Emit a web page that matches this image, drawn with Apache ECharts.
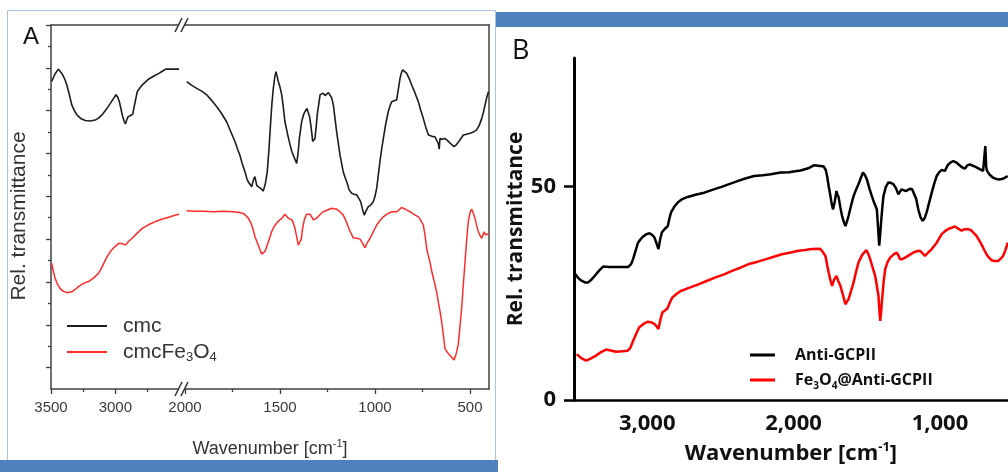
<!DOCTYPE html>
<html>
<head>
<meta charset="utf-8">
<script src="https://cdn.jsdelivr.net/npm/echarts@6/dist/echarts.min.js"></script>
<style>
html,body{margin:0;padding:0;background:#fff;}
#chart{width:1008px;height:472px;}
</style>
</head>
<body>
<div id="chart"></div>
<script>
// ---------- Panel A data: [wavenumber cm-1, relative transmittance (arb.)] ----------
const cmcLeft = [[3495,7.18],[3470,7.35],[3443,7.47],[3430,7.44],[3416,7.37],[3395,7.25],[3377,7.10],[3358,6.88],[3338,6.63],[3318,6.50],[3299,6.40],[3265,6.31],[3234,6.27],[3195,6.26],[3156,6.28],[3130,6.33],[3104,6.40],[3070,6.53],[3039,6.67],[3015,6.78],[2995,6.87],[2982,6.82],[2969,6.71],[2955,6.52],[2943,6.36],[2930,6.24],[2922,6.19],[2912,6.28],[2901,6.36],[2885,6.38],[2865,6.42],[2850,6.65],[2830,6.94],[2810,7.03],[2791,7.10],[2765,7.17],[2740,7.24],[2700,7.31],[2662,7.37],[2635,7.42],[2609,7.47],[2560,7.47],[2505,7.47]];
const cmcRight = [[1991,7.18],[1960,7.08],[1938,7.02],[1910,6.95],[1886,6.87],[1860,6.74],[1833,6.59],[1810,6.45],[1781,6.24],[1760,6.02],[1737,5.78],[1725,5.62],[1711,5.46],[1700,5.28],[1684,5.07],[1675,4.92],[1667,4.84],[1658,4.78],[1649,4.72],[1640,4.88],[1632,4.96],[1622,4.75],[1614,4.72],[1600,4.68],[1588,4.62],[1577,4.80],[1567,5.07],[1558,5.60],[1549,6.24],[1542,6.70],[1535,7.02],[1527,7.30],[1521,7.41],[1515,7.30],[1509,7.18],[1500,7.05],[1491,6.87],[1483,6.60],[1474,6.24],[1460,5.95],[1447,5.70],[1438,5.55],[1430,5.46],[1420,5.35],[1412,5.27],[1405,5.50],[1398,5.85],[1386,6.24],[1375,6.42],[1368,6.48],[1358,6.55],[1351,6.52],[1344,6.35],[1338,6.17],[1332,5.95],[1328,5.78],[1322,5.80],[1316,5.85],[1310,6.10],[1304,6.40],[1296,6.65],[1289,6.87],[1280,6.90],[1272,6.91],[1263,6.85],[1254,6.87],[1245,6.92],[1237,6.91],[1228,6.80],[1219,6.63],[1210,6.30],[1202,6.01],[1192,5.70],[1184,5.46],[1175,5.25],[1167,5.07],[1158,4.95],[1149,4.84],[1136,4.65],[1123,4.57],[1110,4.55],[1096,4.53],[1085,4.45],[1075,4.37],[1066,4.20],[1056,4.06],[1045,4.18],[1035,4.26],[1022,4.30],[1009,4.37],[1000,4.50],[991,4.69],[983,4.98],[974,5.31],[965,5.60],[956,5.85],[943,6.20],[930,6.48],[920,6.62],[912,6.71],[900,6.73],[886,6.75],[877,7.00],[868,7.26],[860,7.40],[854,7.45],[845,7.42],[833,7.37],[820,7.25],[807,7.10],[790,6.92],[772,6.71],[760,6.52],[746,6.32],[733,6.12],[719,5.93],[700,5.90],[684,5.89],[675,5.80],[667,5.74],[662,5.60],[658,5.85],[645,5.83],[632,5.85],[618,5.80],[605,5.74],[595,5.70],[584,5.66],[573,5.70],[562,5.76],[548,5.85],[535,5.93],[518,5.95],[500,5.97],[482,6.00],[465,6.05],[452,6.15],[438,6.32],[430,6.45],[421,6.63],[412,6.80],[403,6.94]];
const feLeft = [[3495,2.94],[3482,2.75],[3469,2.59],[3450,2.45],[3430,2.35],[3405,2.28],[3377,2.25],[3338,2.27],[3310,2.33],[3287,2.39],[3250,2.46],[3209,2.51],[3170,2.59],[3131,2.70],[3105,2.84],[3078,3.01],[3060,3.11],[3039,3.21],[3005,3.32],[2974,3.40],[2950,3.40],[2922,3.36],[2900,3.44],[2870,3.52],[2830,3.64],[2791,3.75],[2740,3.84],[2688,3.91],[2635,3.97],[2584,4.01],[2545,4.05],[2505,4.08]];
const feRight = [[1991,4.16],[1950,4.15],[1900,4.15],[1851,4.14],[1800,4.15],[1746,4.14],[1715,4.12],[1693,4.10],[1680,4.05],[1667,3.99],[1658,3.92],[1649,3.83],[1640,3.70],[1632,3.56],[1618,3.40],[1605,3.25],[1596,3.15],[1588,3.11],[1578,3.22],[1567,3.36],[1555,3.52],[1544,3.67],[1530,3.80],[1518,3.87],[1508,3.92],[1500,3.95],[1488,4.00],[1474,4.08],[1465,4.04],[1456,3.99],[1446,3.97],[1438,3.95],[1430,3.88],[1421,3.75],[1412,3.55],[1404,3.36],[1395,3.32],[1388,3.50],[1381,3.75],[1372,3.95],[1360,4.08],[1350,4.09],[1342,4.08],[1333,4.02],[1325,3.95],[1316,3.96],[1307,3.99],[1290,4.07],[1272,4.14],[1250,4.18],[1228,4.22],[1215,4.21],[1202,4.20],[1185,4.14],[1167,4.06],[1155,3.95],[1141,3.79],[1128,3.65],[1114,3.53],[1095,3.52],[1079,3.50],[1065,3.40],[1053,3.30],[1040,3.42],[1026,3.52],[1008,3.68],[991,3.83],[975,3.93],[956,4.02],[935,4.09],[912,4.14],[886,4.14],[872,4.19],[860,4.24],[845,4.21],[830,4.17],[816,4.14],[795,4.08],[772,4.02],[760,3.95],[746,3.83],[737,3.60],[728,3.29],[720,3.12],[711,2.97],[700,2.72],[684,2.43],[675,2.25],[667,2.04],[658,1.82],[649,1.57],[640,1.25],[632,0.95],[623,0.88],[614,0.83],[600,0.76],[584,0.68],[573,0.82],[562,1.03],[553,1.45],[544,1.88],[535,2.45],[526,2.97],[518,3.45],[509,3.91],[500,4.12],[491,4.20],[482,4.10],[474,3.99],[465,3.82],[456,3.67],[447,3.58],[438,3.52],[432,3.60],[426,3.67],[419,3.60],[412,3.56],[406,3.62],[400,3.60]];

// ---------- Panel B data ----------
const antiB = [[3490,29.4],[3470,28.5],[3449,27.9],[3425,27.5],[3403,27.5],[3380,28.2],[3359,29.0],[3330,30.2],[3301,31.2],[3260,31.1],[3222,31.1],[3180,31.1],[3131,31.1],[3110,31.8],[3097,32.9],[3080,34.8],[3063,36.8],[3045,37.6],[3029,38.2],[3005,38.8],[2984,39.0],[2965,38.6],[2950,38.0],[2935,36.5],[2923,35.3],[2912,37.5],[2900,39.2],[2880,40.0],[2859,40.7],[2848,42.5],[2837,43.9],[2815,45.2],[2791,46.2],[2760,47.0],[2723,47.5],[2670,48.0],[2610,48.5],[2550,49.2],[2497,49.8],[2440,50.5],[2383,51.2],[2330,51.8],[2270,52.4],[2210,52.6],[2156,52.8],[2088,53.2],[2032,53.3],[1990,53.5],[1952,53.7],[1900,54.2],[1862,54.9],[1830,54.8],[1794,54.6],[1780,53.8],[1771,52.4],[1760,50.0],[1748,47.7],[1740,46.0],[1730,44.6],[1718,46.5],[1707,48.9],[1700,48.0],[1692,47.4],[1680,45.0],[1669,43.1],[1658,41.8],[1646,40.7],[1635,41.8],[1624,43.1],[1607,45.5],[1590,47.7],[1573,49.2],[1556,50.5],[1540,52.0],[1526,53.2],[1512,52.6],[1499,51.6],[1482,49.5],[1465,47.7],[1448,46.0],[1431,44.6],[1422,40.0],[1415,36.1],[1410,38.0],[1404,40.7],[1395,44.5],[1386,47.7],[1370,49.8],[1352,50.9],[1335,50.8],[1318,50.5],[1300,49.5],[1284,48.1],[1272,48.8],[1261,49.3],[1245,49.0],[1231,48.9],[1218,49.2],[1204,49.4],[1190,49.3],[1177,48.9],[1162,47.0],[1148,44.6],[1133,42.8],[1118,41.9],[1105,42.5],[1091,43.9],[1075,46.0],[1056,48.5],[1040,50.5],[1022,52.4],[1005,53.3],[988,53.8],[975,53.8],[966,53.6],[955,54.4],[943,55.1],[925,55.6],[909,55.9],[890,55.6],[876,55.2],[864,54.9],[848,54.4],[830,54.1],[815,54.8],[796,55.1],[775,54.8],[750,54.4],[728,54.0],[705,53.6],[695,54.0],[690,59.4],[684,54.5],[678,53.6],[660,52.7],[637,52.0],[615,51.7],[592,51.6],[565,51.8],[537,52.4]];
const feAntiB = [[3481,10.7],[3450,9.8],[3417,9.2],[3390,9.6],[3349,10.4],[3315,11.2],[3281,11.8],[3250,11.6],[3213,11.3],[3170,11.4],[3134,11.5],[3115,12.2],[3100,13.5],[3075,15.5],[3054,17.0],[3025,17.8],[2998,18.3],[2975,18.2],[2952,17.8],[2935,17.2],[2923,16.6],[2910,18.8],[2896,20.5],[2880,20.9],[2862,21.4],[2845,22.8],[2828,24.0],[2800,24.8],[2771,25.5],[2710,26.3],[2646,27.1],[2590,27.9],[2533,28.7],[2475,29.4],[2420,30.2],[2360,31.0],[2306,31.8],[2250,32.3],[2193,32.9],[2135,33.5],[2080,34.1],[2020,34.5],[1966,34.9],[1920,35.1],[1876,35.3],[1819,35.4],[1800,34.6],[1782,33.7],[1770,31.5],[1760,29.8],[1748,28.0],[1737,26.7],[1722,28.2],[1707,29.0],[1694,27.8],[1680,26.7],[1662,24.5],[1646,22.4],[1635,23.0],[1624,23.6],[1607,25.5],[1590,27.5],[1573,30.0],[1556,32.2],[1530,34.0],[1503,35.1],[1490,34.2],[1476,32.9],[1460,31.0],[1442,29.0],[1430,26.5],[1420,24.4],[1414,21.0],[1408,18.5],[1402,20.5],[1397,22.8],[1385,27.5],[1374,30.6],[1357,32.3],[1340,33.3],[1318,34.0],[1295,34.5],[1283,33.8],[1272,32.9],[1255,33.0],[1238,33.3],[1210,33.9],[1181,34.5],[1158,34.8],[1136,34.9],[1118,34.3],[1102,33.7],[1080,34.5],[1056,35.3],[1040,36.0],[1022,36.8],[1005,37.8],[988,38.8],[965,39.5],[943,40.0],[920,40.3],[898,40.6],[875,40.1],[852,39.6],[835,39.9],[818,40.0],[800,39.9],[784,39.6],[767,39.0],[750,38.4],[733,37.4],[716,36.4],[699,35.2],[682,34.1],[665,33.3],[648,32.7],[625,32.5],[603,32.5],[586,33.0],[569,33.7],[553,35.0],[537,36.8]];

// ---------- Tick values ----------
const ticksALeft = [3500, 3000];
const minorALeft = [3250, 2750];
const ticksARight = [2000, 1500, 1000, 500];
const minorARight = [1750, 1250, 750];
const ticksAY = [0.5, 1.5, 2.5, 3.5, 4.5, 5.5, 6.5, 7.5, 8.5];
const minorAY = [1, 2, 3, 4, 5, 6, 7, 8];
const ticksBX = [3000, 2000, 1000];
const ticksBY = [0, 50];

const FA = '"Liberation Sans", Arial, sans-serif';
const FB = '"Open Sans", "Liberation Sans", sans-serif';
const axA = '#404040';
const blackA = '#1c1c1c';
const redA = '#ff2b2b';

const chart = echarts.init(document.getElementById('chart'), null, {renderer: 'canvas'});

function lineAxis(show) {
  return {show: show, onZero: false, lineStyle: {color: axA, width: 1.5}};
}
const plainNum = v => String(v);

const option = {
  animation: false,
  backgroundColor: '#ffffff',
  title: [
    {text: 'A', left: 23, top: 25, padding: 0, textStyle: {fontFamily: FA, fontSize: 24, fontWeight: 'normal', color: '#111'}},
    {text: 'B', left: 512, top: 38, padding: 0, textStyle: {fontFamily: FB, fontSize: 27, fontWeight: 'normal', color: '#111'}}
  ],
  grid: [
    {left: 51, top: 25, width: 130, height: 364},
    {left: 181, top: 25, width: 308, height: 364},
    {left: 574, top: 58, right: 0, height: 343},
    {left: 51, top: 25, width: 438, height: 364}
  ],
  xAxis: [
    {gridIndex: 0, type: 'value', position: 'bottom', inverse: true, min: 2490, max: 3500,
     axisLine: lineAxis(true),
     axisTick: {show: true, customValues: ticksALeft, length: 5, lineStyle: {color: axA, width: 1.3}},
     axisLabel: {customValues: ticksALeft, formatter: plainNum, margin: 11, fontSize: 15, fontFamily: FA, color: '#3a3a3a'},
     splitLine: {show: false}},
    {gridIndex: 0, type: 'value', position: 'bottom', inverse: true, min: 2490, max: 3500,
     axisLine: {show: false},
     axisTick: {show: true, customValues: minorALeft, length: 3, lineStyle: {color: axA, width: 1.3}},
     axisLabel: {show: false}, splitLine: {show: false}},
    {gridIndex: 0, type: 'value', position: 'top', inverse: true, min: 2490, max: 3500,
     axisLine: lineAxis(true), axisTick: {show: false}, axisLabel: {show: false}, splitLine: {show: false}},
    {gridIndex: 1, type: 'value', position: 'bottom', inverse: true, min: 400, max: 2021,
     axisLine: lineAxis(true),
     axisTick: {show: true, customValues: ticksARight, length: 5, lineStyle: {color: axA, width: 1.3}},
     axisLabel: {customValues: ticksARight, formatter: plainNum, margin: 11, fontSize: 15, fontFamily: FA, color: '#3a3a3a'},
     splitLine: {show: false}},
    {gridIndex: 1, type: 'value', position: 'bottom', inverse: true, min: 400, max: 2021,
     axisLine: {show: false},
     axisTick: {show: true, customValues: minorARight, length: 3, lineStyle: {color: axA, width: 1.3}},
     axisLabel: {show: false}, splitLine: {show: false}},
    {gridIndex: 1, type: 'value', position: 'top', inverse: true, min: 400, max: 2021,
     axisLine: lineAxis(true), axisTick: {show: false}, axisLabel: {show: false}, splitLine: {show: false}},
    {gridIndex: 2, type: 'value', position: 'bottom', inverse: true, min: 535, max: 3500,
     axisLine: {show: true, onZero: false, lineStyle: {color: '#000', width: 2.5}},
     axisTick: {show: false},
     axisLabel: {customValues: ticksBX, margin: 13, fontSize: 22, fontWeight: 'bold', fontFamily: FB, color: '#111',
                 formatter: v => v.toLocaleString('en-US')},
     splitLine: {show: false},
     name: 'Wavenumber [cm{sup|-1}]', nameLocation: 'middle', nameGap: 41,
     nameTextStyle: {fontFamily: FB, fontSize: 22, fontWeight: 'bold', color: '#111', lineHeight: 26,
       rich: {sup: {fontFamily: FB, fontSize: 13, fontWeight: 'bold', color: '#111', lineHeight: 13, verticalAlign: 'top'}}}},
    {gridIndex: 3, type: 'value', position: 'bottom', min: 0, max: 1,
     axisLine: {show: false}, axisTick: {show: false}, axisLabel: {show: false}, splitLine: {show: false},
     name: 'Wavenumber [cm{sup|-1}]', nameLocation: 'middle', nameGap: 49,
     nameTextStyle: {fontFamily: FA, fontSize: 18, color: '#333', lineHeight: 22,
       rich: {sup: {fontFamily: FA, fontSize: 11, color: '#333', lineHeight: 11, verticalAlign: 'top'}}}}
  ],
  yAxis: [
    {gridIndex: 0, type: 'value', position: 'left', min: 0, max: 8.5,
     axisLine: lineAxis(true),
     axisTick: {show: true, customValues: ticksAY, length: 5, lineStyle: {color: axA, width: 1.3}},
     axisLabel: {show: false}, splitLine: {show: false}},
    {gridIndex: 0, type: 'value', position: 'left', min: 0, max: 8.5,
     axisLine: {show: false},
     axisTick: {show: true, customValues: minorAY, length: 3, lineStyle: {color: axA, width: 1.3}},
     axisLabel: {show: false}, splitLine: {show: false}},
    {gridIndex: 1, type: 'value', position: 'right', min: 0, max: 8.5,
     axisLine: lineAxis(true), axisTick: {show: false}, axisLabel: {show: false}, splitLine: {show: false}},
    {gridIndex: 2, type: 'value', position: 'left', min: 0, max: 80,
     axisLine: {show: true, onZero: false, lineStyle: {color: '#000', width: 3}},
     axisTick: {show: true, customValues: ticksBY, length: 10, lineStyle: {color: '#000', width: 2.5}},
     axisLabel: {customValues: ticksBY, margin: 18, fontSize: 22, fontWeight: 'bold', fontFamily: FB, color: '#111'},
     splitLine: {show: false},
     name: 'Rel. transmittance', nameLocation: 'middle', nameGap: 44,
     nameTextStyle: {fontFamily: FB, fontSize: 21, fontWeight: 'bold', color: '#111'}},
    {gridIndex: 3, type: 'value', position: 'left', min: 0, max: 1,
     axisLine: {show: false}, axisTick: {show: false}, axisLabel: {show: false}, splitLine: {show: false},
     name: 'Rel. transmittance', nameLocation: 'middle', nameGap: 21,
     nameTextStyle: {fontFamily: FA, fontSize: 21, color: '#333', padding: [0, 18, 0, 0]}}
  ],
  legend: [
    {data: ['cmc', 'cmcFe3O4'], orient: 'vertical', left: 67, top: 314, padding: 0,
     icon: 'rect', itemWidth: 40, itemHeight: 2, itemGap: 2, selectedMode: false,
     formatter: n => n === 'cmcFe3O4' ? 'cmcFe{s|3}O{s|4}' : n,
     textStyle: {fontFamily: FA, fontSize: 21, color: '#333', lineHeight: 24, padding: [0, 0, 0, 11],
       rich: {s: {fontFamily: FA, fontSize: 13, color: '#333', lineHeight: 13, verticalAlign: 'bottom'}}}},
    {data: ['Anti-GCPII', 'Fe3O4@Anti-GCPII'], orient: 'vertical', left: 750, top: 344, padding: 0,
     icon: 'rect', itemWidth: 25, itemHeight: 3, itemGap: 3, selectedMode: false,
     formatter: n => n === 'Fe3O4@Anti-GCPII' ? 'Fe{s|3}O{s|4}@Anti-GCPII' : n,
     textStyle: {fontFamily: FB, fontSize: 16, fontWeight: 'bold', color: '#111', lineHeight: 22, padding: [0, 0, 0, 15],
       rich: {s: {fontFamily: FB, fontSize: 10, fontWeight: 'bold', color: '#111', lineHeight: 10, verticalAlign: 'bottom'}}}}
  ],
  series: [
    {name: 'cmc', type: 'line', xAxisIndex: 0, yAxisIndex: 0, data: cmcLeft, symbol: 'none',
     lineStyle: {color: blackA, width: 1.6}, itemStyle: {color: blackA}},
    {name: 'cmc', type: 'line', xAxisIndex: 3, yAxisIndex: 2, data: cmcRight, symbol: 'none',
     lineStyle: {color: blackA, width: 1.6}, itemStyle: {color: blackA}},
    {name: 'cmcFe3O4', type: 'line', xAxisIndex: 0, yAxisIndex: 0, data: feLeft, symbol: 'none',
     lineStyle: {color: redA, width: 1.5}, itemStyle: {color: redA}},
    {name: 'cmcFe3O4', type: 'line', xAxisIndex: 3, yAxisIndex: 2, data: feRight, symbol: 'none',
     lineStyle: {color: redA, width: 1.5}, itemStyle: {color: redA}},
    {name: 'Anti-GCPII', type: 'line', xAxisIndex: 6, yAxisIndex: 3, data: antiB, symbol: 'none',
     lineStyle: {color: '#000', width: 2.5}, itemStyle: {color: '#000'}},
    {name: 'Fe3O4@Anti-GCPII', type: 'line', xAxisIndex: 6, yAxisIndex: 3, data: feAntiB, symbol: 'none',
     lineStyle: {color: '#ff0000', width: 2.5}, itemStyle: {color: '#ff0000'}}
  ],
  graphic: [
    {type: 'rect', z: -10, shape: {x: 7.5, y: 10.5, width: 488, height: 452}, style: {fill: null, stroke: '#a8c3e6', lineWidth: 1}},
    {type: 'rect', z: 50, shape: {x: 0, y: 460, width: 498, height: 12}, style: {fill: '#4f81bd'}},
    {type: 'rect', z: 50, shape: {x: 496, y: 12, width: 512, height: 15}, style: {fill: '#4f81bd'}},
    // axis break marks (top)
    {type: 'polygon', z: 100, shape: {points: [[175, 32], [182, 18], [188, 18], [181, 32]]}, style: {fill: '#fff'}},
    {type: 'line', z: 101, shape: {x1: 175, y1: 32, x2: 182, y2: 18}, style: {stroke: '#333', lineWidth: 1.5}},
    {type: 'line', z: 101, shape: {x1: 181, y1: 32, x2: 188, y2: 18}, style: {stroke: '#333', lineWidth: 1.5}},
    // axis break marks (bottom)
    {type: 'polygon', z: 100, shape: {points: [[175, 396], [182, 382], [188, 382], [181, 396]]}, style: {fill: '#fff'}},
    {type: 'line', z: 101, shape: {x1: 175, y1: 396, x2: 182, y2: 382}, style: {stroke: '#333', lineWidth: 1.5}},
    {type: 'line', z: 101, shape: {x1: 181, y1: 396, x2: 188, y2: 382}, style: {stroke: '#333', lineWidth: 1.5}}
  ]
};
chart.setOption(option);
</script>
</body>
</html>
